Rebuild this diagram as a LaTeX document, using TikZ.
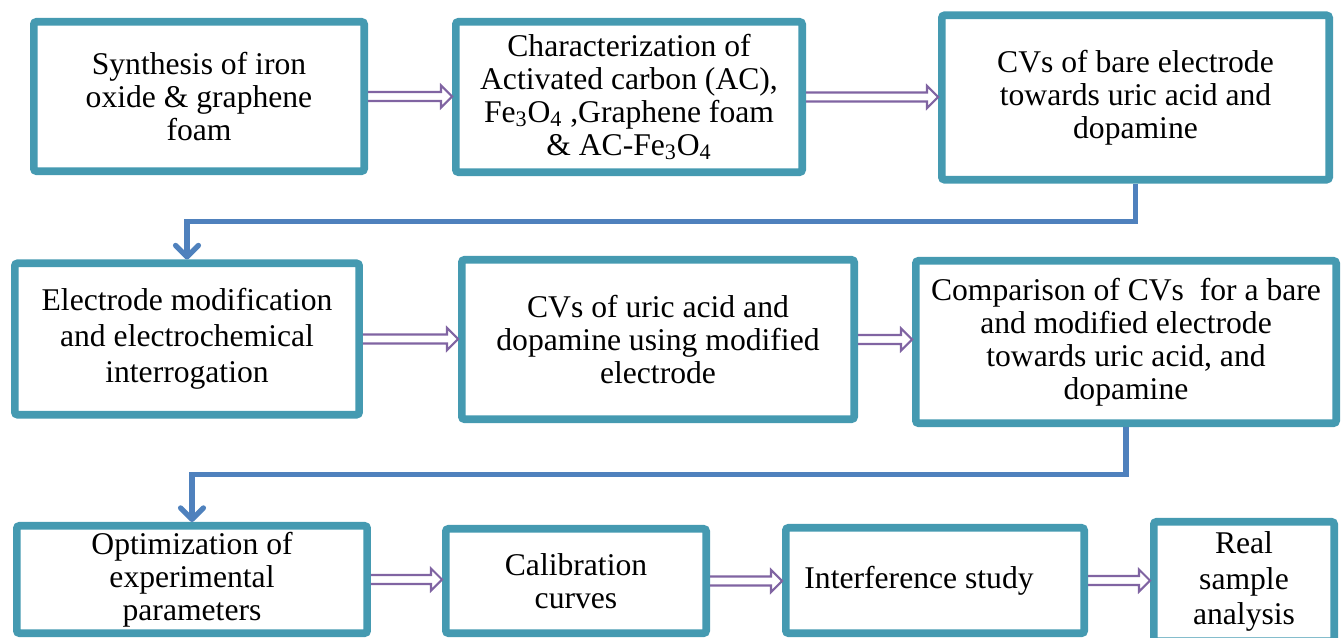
\documentclass[tikz,border=0pt]{standalone}
\usepackage{fontspec}
\setmainfont{Liberation Serif}
\newfontfamily\boxfont{Liberation Serif}
\usetikzlibrary{arrows.meta,calc,shadows}
\definecolor{boxteal}{RGB}{69,154,177}
\definecolor{flowblue}{RGB}{79,129,189}
\definecolor{arrowpurple}{RGB}{128,100,162}

\begin{document}
\begin{tikzpicture}[x=0.02cm, y=-0.02cm, font=\boxfont\fontsize{18}{18.8}\selectfont,
  stage/.style={draw=boxteal, line width=4.3pt, fill=white, rounded corners=1.5pt, align=center, inner sep=2pt,
    drop shadow={shadow xshift=1.2pt, shadow yshift=-1.5pt, opacity=0.3}},
  flow/.style={draw=flowblue, line width=3pt, -{Straight Barb[length=6.5pt, width=13pt, round]}},
  hollow/.style={draw=arrowpurple, line width=1.2pt, to path={
    ($(\tikztostart)+(0,4.5)$) -- ($(\tikztotarget)+(-11,4.5)$) -- ($(\tikztotarget)+(-11,11)$)
    -- (\tikztotarget) -- ($(\tikztotarget)+(-11,-11)$) -- ($(\tikztotarget)+(-11,-4.5)$)
    -- ($(\tikztostart)+(0,-4.5)$)}}]
  \clip (0,0) rectangle (1341,638);
  % first row
  \node[stage, minimum width=6.61cm, minimum height=2.99cm] (synth) at (199,96.5)
    {Synthesis of iron\\ oxide \& graphene\\ foam};
  \node[stage, minimum width=6.93cm, minimum height=3.01cm] (charact) at (629,97)
    {Characterization of\\ Activated carbon (AC),\\ Fe\textsubscript{3}O\textsubscript{4} ,Graphene foam\\ \& AC-Fe\textsubscript{3}O\textsubscript{4}};
  \node[stage, minimum width=7.75cm, minimum height=3.29cm] (cvbare) at (1135.5,97.5)
    {CVs of bare electrode\\ towards uric acid and\\ dopamine};
  % second row
  \node[stage, minimum width=6.89cm, minimum height=3.03cm, font=\boxfont\fontsize{18}{20.5}\selectfont] (modify) at (187,339)
    {Electrode modification\\ and electrochemical\\ interrogation};
  \node[stage, minimum width=7.85cm, minimum height=3.19cm] (cvmod) at (658,339.5)
    {CVs of uric acid and\\ dopamine using modified\\ electrode};
  \node[stage, minimum width=8.41cm, minimum height=3.25cm] (compare) at (1126,342)
    {Comparison of CVs\ \ for a bare\\ and modified electrode\\ towards uric acid, and\\ dopamine};
  % third row
  \node[stage, minimum width=7.01cm, minimum height=2.15cm] (optim) at (192,579.5)
    {Optimization of\\ experimental\\ parameters};
  \node[stage, minimum width=5.21cm, minimum height=2.09cm] (calib) at (576,581)
    {Calibration\\ curves};
  \node[stage, minimum width=5.97cm, minimum height=2.11cm] (interf) at (935,580.5)
    {Interference study\hspace*{0.64cm}};
  \node[stage, minimum width=3.61cm, minimum height=2.39cm, font=\boxfont\fontsize{18}{20}\selectfont] (real) at (1244,581.5)
    {Real\\ sample\\ analysis};
  % arrows within a row
  \draw[hollow] (synth.east) to (synth.east -| charact.west);
  \draw[hollow] (charact.east) to (charact.east -| cvbare.west);
  \draw[hollow] (modify.east) to (modify.east -| cvmod.west);
  \draw[hollow] (cvmod.east) to (cvmod.east -| compare.west);
  \draw[hollow] (optim.east) to (optim.east -| calib.west);
  \draw[hollow] (calib.east) to (calib.east -| interf.west);
  \draw[hollow] (interf.east) to (interf.east -| real.west);
  % row to row
  \coordinate (turn1) at ($(cvbare.south)!0.5!(modify.north)$);
  \coordinate (turn2) at ($(compare.south)!0.5!(optim.north)$);
  \draw[flow] (cvbare.south) |- (turn1) -| (modify.north);
  \draw[flow] (compare.south) |- (turn2) -| (optim.north);
\end{tikzpicture}
\end{document}
